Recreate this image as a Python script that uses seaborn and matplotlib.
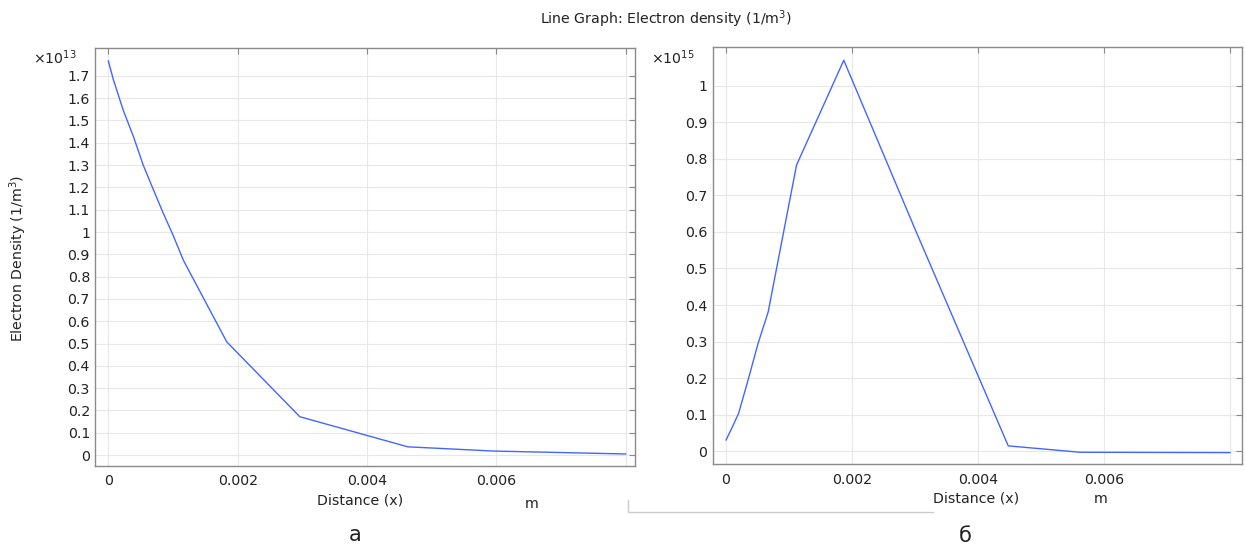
import numpy as np
import pandas as pd
import seaborn as sns
import matplotlib.pyplot as plt
import matplotlib
from matplotlib.lines import Line2D

# panel a: electron density along x (values in units of 1e13 1/m^3)
dist_a = [0.0, 0.00008, 0.00023, 0.00039, 0.00054, 0.00070, 0.00085, 0.00100, 0.00116,
          0.00183, 0.00296, 0.00463, 0.00596, 0.0080]
dens_a = [1.768, 1.682, 1.547, 1.427, 1.300, 1.188, 1.084, 0.987, 0.874,
          0.508, 0.172, 0.037, 0.018, 0.005]

# panel b: electron density along x (values in units of 1e15 1/m^3)
dist_b = [0.0, 0.00009, 0.0002, 0.00035, 0.00051, 0.00067, 0.00112, 0.00187, 0.00302,
          0.00448, 0.00562, 0.0080]
dens_b = [0.030, 0.062, 0.103, 0.194, 0.295, 0.381, 0.783, 1.07, 0.600,
          0.0145, -0.003, -0.004]

xticks = [0, 0.002, 0.004, 0.006, 0.008]
yticks_a = np.round(np.arange(0, 1.71, 0.1), 1)
yticks_b = np.round(np.arange(0, 1.01, 0.1), 1)

sns.set_style("whitegrid")
plt.rcParams['font.family'] = ['DejaVu Sans']

line_color = '#4466ff'
frame_color = '#8a8a8a'
txt = '#222222'
fs = 10.2

fig = plt.figure(figsize=(12.46, 5.46), dpi=100)
ax1 = fig.add_axes([0.0766, 0.1465, 0.433, 0.7656])
ax2 = fig.add_axes([0.5722, 0.1496, 0.4246, 0.7648])

df_a = pd.DataFrame({'x': dist_a, 'y': dens_a})
df_b = pd.DataFrame({'x': dist_b, 'y': dens_b})

sns.lineplot(data=df_a, x='x', y='y', ax=ax1, color=line_color, linewidth=1.0)
sns.lineplot(data=df_b, x='x', y='y', ax=ax2, color=line_color, linewidth=1.0)

def fmt(v, p):
    if abs(v - 0.008) < 1e-9:
        return ''
    return '%g' % round(v, 4)

for ax, yt, ylim, xlim in [(ax1, yticks_a, (-0.049, 1.825), (-0.000198, 0.00814)),
                           (ax2, yticks_b, (-0.036, 1.107), (-0.000206, 0.00819))]:
    ax.set_xlim(*xlim)
    ax.set_ylim(*ylim)
    ax.set_xticks(xticks)
    ax.set_yticks(yt)
    ax.xaxis.set_major_formatter(matplotlib.ticker.FuncFormatter(fmt))
    ax.yaxis.set_major_formatter(matplotlib.ticker.FuncFormatter(lambda v, p: '%g' % round(v, 2)))
    ax.grid(True, color='#e8e8e8', linewidth=0.8)
    ax.tick_params(direction='in', length=4, width=0.8, color=frame_color,
                   top=True, right=True, labelsize=fs, labelcolor=txt)
    ax.tick_params(axis='x', pad=6)
    ax.tick_params(axis='y', pad=4)
    for s in ax.spines.values():
        s.set_color(frame_color)
        s.set_linewidth(1.0)
    ax.set_xlabel('')
    ax.set_ylabel('')

fig.text(666/1246, 1 - 19/546, 'Line Graph: Electron density (1/m$^3$)', ha='center', va='center',
         fontsize=fs, color=txt)
fig.text(33/1246, 1 - 58/546, r'$\times$10$^{13}$', ha='left', va='center', fontsize=fs, color=txt)
fig.text(651/1246, 1 - 58/546, r'$\times$10$^{15}$', ha='left', va='center', fontsize=fs, color=txt)
fig.text(18/1246, 1 - 258/546, 'Electron Density (1/m$^3$)', rotation=90, ha='center', va='center',
         fontsize=fs, color=txt)
fig.text(360/1246, 1 - 500/546, 'Distance (x)', ha='center', va='center', fontsize=fs, color=txt)
fig.text(532/1246, 1 - 504/546, 'm', ha='center', va='center', fontsize=fs, color=txt)
fig.text(976/1246, 1 - 499/546, 'Distance (x)', ha='center', va='center', fontsize=fs, color=txt)
fig.text(1101/1246, 1 - 499/546, 'm', ha='center', va='center', fontsize=fs, color=txt)
fig.text(355/1246, 1 - 535/546, 'а', ha='center', va='center', fontsize=15, color=txt)
fig.text(965/1246, 1 - 536/546, 'б', ha='center', va='center', fontsize=15, color=txt)

# thin grey bracket between panels
fig.add_artist(Line2D([628/1246, 628/1246, 933/1246], [1 - 500/546, 1 - 511.5/546, 1 - 511.5/546],
                      transform=fig.transFigure, color='#cccccc', linewidth=1.0))

plt.savefig('out.png', dpi=100)
